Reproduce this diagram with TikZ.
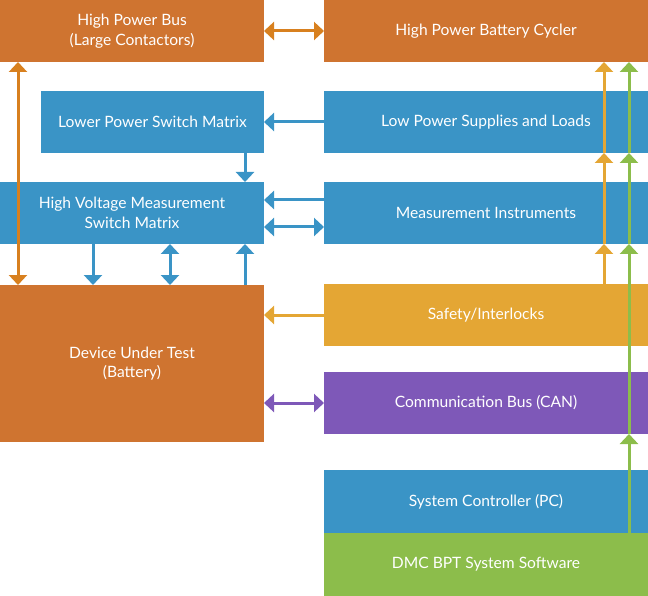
\documentclass[tikz,border=0pt]{standalone}
\usepackage{fontspec}
\setmainfont{Lato}
\usetikzlibrary{arrows.meta}
\definecolor{dmcorange}{HTML}{CF7430}
\definecolor{dmcblue}{HTML}{3A94C6}
\definecolor{dmcyellow}{HTML}{E4A634}
\definecolor{dmcpurple}{HTML}{7E58B8}
\definecolor{dmcgreen}{HTML}{8CBD4B}
\definecolor{dmcarrow}{HTML}{D8801F}
\tikzset{
	blockbox/.style={anchor=north west, inner sep=0pt, outer sep=0pt, text=white, align=center,
		font=\fontsize{15.6}{19.5}\selectfont, minimum height=62pt},
	duplex/.style={line width=3pt, {Triangle[width=18pt,length=10pt]}-{Triangle[width=18pt,length=10pt]}},
	simplex/.style={line width=3pt, -{Triangle[width=18pt,length=10pt]}}
}
\begin{document}
\begin{tikzpicture}[x=1pt,y=1pt]
				\useasboundingbox (0,0) rectangle (648,-596);
				
				% left column
				\node[blockbox, fill=dmcorange, minimum width=264pt] (hpbus) at (0,0) {High Power Bus\\(Large Contactors)};
				\node[blockbox, fill=dmcblue, minimum width=223pt] (lpmatrix) at (41,-91) {Lower Power Switch Matrix};
				\node[blockbox, fill=dmcblue, minimum width=264pt] (hvmatrix) at (0,-182) {High Voltage Measurement\\Switch Matrix};
				\node[blockbox, fill=dmcorange, minimum width=264pt, minimum height=157pt] (dut) at (0,-285) {Device Under Test\\(Battery)};
				
				% right column
				\node[blockbox, fill=dmcorange, minimum width=324pt] (cycler) at (324,0) {High Power Battery Cycler};
				\node[blockbox, fill=dmcblue, minimum width=324pt] (supplies) at (324,-91) {Low Power Supplies and Loads};
				\node[blockbox, fill=dmcblue, minimum width=324pt] (instr) at (324,-182) {Measurement Instruments};
				\node[blockbox, fill=dmcyellow, minimum width=324pt] (safety) at (324,-284) {Safety/Interlocks};
				\node[blockbox, fill=dmcpurple, minimum width=324pt] (canbus) at (324,-372) {Communication Bus (CAN)};
				\node[blockbox, fill=dmcblue, minimum width=324pt, minimum height=63pt] (pc) at (324,-470) {System Controller (PC)};
				\node[blockbox, fill=dmcgreen, minimum width=324pt, minimum height=63pt] (software) at (324,-533) {DMC BPT System Software};
				
				% power paths
				\draw[duplex, dmcarrow] (hpbus.east) -- (cycler.west);
				\draw[duplex, dmcarrow] ([xshift=18pt]hpbus.south west) -- ([xshift=18pt]dut.north west);
				
				% switch matrices
				\draw[simplex, dmcblue] (supplies.west) -- (lpmatrix.east);
				\draw[simplex, dmcblue] ([xshift=-19pt]lpmatrix.south east) -- ([xshift=-19pt]hvmatrix.north east);
				\draw[simplex, dmcblue] ([yshift=13pt]instr.west) -- ([yshift=13pt]hvmatrix.east);
				\draw[duplex, dmcblue] ([yshift=-14pt]instr.west) -- ([yshift=-14pt]hvmatrix.east);
				\draw[simplex, dmcblue] ([xshift=93pt]hvmatrix.south west) -- ([xshift=93pt]dut.north west);
				\draw[duplex, dmcblue] ([xshift=170pt]hvmatrix.south west) -- ([xshift=170pt]dut.north west);
				\draw[simplex, dmcblue] ([xshift=-19pt]dut.north east) -- ([xshift=-19pt]hvmatrix.south east);
				
				% safety and communication
				\draw[simplex, dmcyellow] (safety.west) -- (safety.west -| dut.east);
				\draw[duplex, dmcpurple] (canbus.west) -- (canbus.west -| dut.east);
				
				% interlock and software lines
				\foreach \from/\to in {safety.north east/instr.south east, instr.south east/supplies.south east, supplies.south east/cycler.south east}
					\draw[simplex, dmcyellow] ([xshift=-44pt]\from) -- ([xshift=-44pt]\to);
				\foreach \from/\to in {software.north east/canbus.south east, canbus.south east/instr.south east, instr.south east/supplies.south east, supplies.south east/cycler.south east}
					\draw[simplex, dmcgreen] ([xshift=-19pt]\from) -- ([xshift=-19pt]\to);
			\end{tikzpicture}
\end{document}
